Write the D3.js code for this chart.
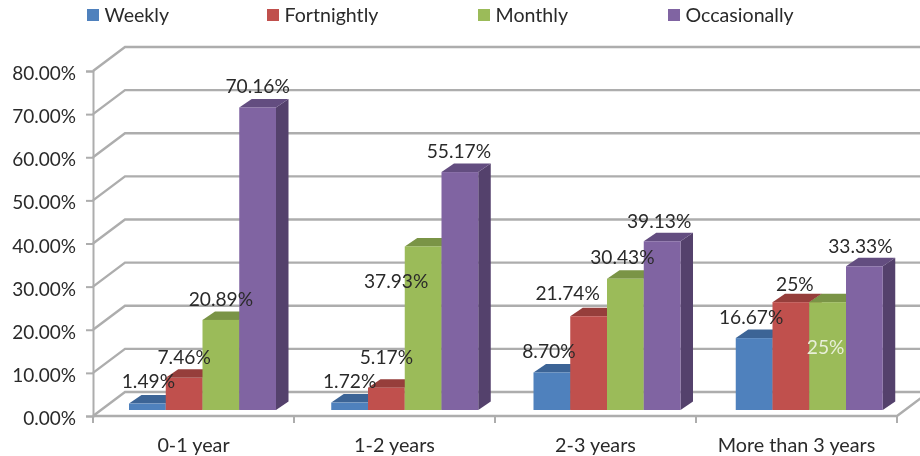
<!DOCTYPE html>
<html><head><meta charset="utf-8">
<script src="https://cdn.jsdelivr.net/npm/d3@7"></script>
<style>html,body{margin:0;padding:0;background:#fff}svg{display:block;filter:blur(0.35px)}text{font-family:Lato,"Open Sans",sans-serif;fill:#2a2a2a}</style>
</head><body><svg id="c" width="920" height="456"></svg>
<script>
const categories = ["0-1 year","1-2 years","2-3 years","More than 3 years"];
const seriesNames = ["Weekly","Fortnightly","Monthly","Occasionally"];
const weekly = [1.49,1.72,8.70,16.67];
const fortnightly = [7.46,5.17,21.74,25];
const monthly = [20.89,37.93,30.43,25];
const occasionally = [70.16,55.17,39.13,33.33];
const weeklyLabels = ["1.49%","1.72%","8.70%","16.67%"];
const fortnightlyLabels = ["7.46%","5.17%","21.74%","25%"];
const monthlyLabels = ["20.89%","37.93%","30.43%","25%"];
const occasionallyLabels = ["70.16%","55.17%","39.13%","33.33%"];
const yTicks = [0,10,20,30,40,50,60,70,80];

// layout
const W=920,H=456, X0=93,X1=897, Y0=416,Y80=71;
const wallDx=32,wallDy=-24, barDy=-6, depthDx=12.5,depthDy=-8.5, fs=19.2;
const colors=["#4f81bd","#c0504d","#9bbb59","#8064a2"];
const topCol=["#3c6496","#963e3b","#7a9446","#634d80"];
const sideCol=["#34577f","#7f3432","#667c3a","#54416c"];
const gridCol="#adadad";
const legendX=[87,267,478,668];
// label nudges relative to the top centre of each bar, [dx,dy] per series then category
const labelNudge=[
 [[1,-23],[0,-22],[-3,-22],[-3,-22]],
 [[0,-21],[0,-31],[-21,-24],[4,-19]],
 [[0,-21],[-27,34],[-3,-22],[-2,44]],
 [[0,-22],[-1,-22],[-3,-21],[-4,-21]]
];
const values=[weekly,fortnightly,monthly,occasionally];
const labels=[weeklyLabels,fortnightlyLabels,monthlyLabels,occasionallyLabels];

const svg=d3.select("#c");
const y=d3.scaleLinear().domain([0,80]).range([Y0,Y80]);
const x=d3.scaleBand().domain(categories).range([X0,X1]);
// bars sit on a slightly wider pitch than the axis ticks
const barX=d3.scaleBand().domain(categories).range([129,938]);
const inner=d3.scaleBand().domain(seriesNames).range([0,147]);

// walls
const grid=svg.append("g").attr("fill","none").attr("stroke",gridCol).attr("stroke-width",2.4);
grid.selectAll("path").data(yTicks).join("path")
  .attr("d",t=>`M${X0},${y(t)}L${X0+wallDx},${y(t)+wallDy}L${W+5},${y(t)+wallDy}`);
grid.append("path").attr("d",`M${X0},${Y0}L${X1},${Y0}L${X1+wallDx},${Y0+wallDy}`);

// axes
const yAxis=d3.axisLeft(y).tickValues(yTicks).tickSize(7).tickPadding(10).tickFormat(d=>d3.format(".2f")(d)+"%");
const gy=svg.append("g").attr("transform",`translate(${X0},0)`).call(yAxis);
const xAxis=d3.axisBottom(x).tickSize(0).tickPadding(22);
const gx=svg.append("g").attr("transform",`translate(0,${Y0})`).call(xAxis);
[gy,gx].forEach(g=>{g.selectAll("line,path").attr("stroke",gridCol).attr("stroke-width",2);});
gy.selectAll("text").attr("font-size",19).style("font-family","Lato").attr("dy","0.45em");
gx.selectAll("text").attr("font-size",19.8).style("font-family","Lato");
gx.select(".domain").remove();
svg.append("g").selectAll("line").data([...categories.map(c=>x(c)),X1]).join("line")
  .attr("x1",d=>d).attr("x2",d=>d).attr("y1",Y0).attr("y2",Y0+7).attr("stroke",gridCol).attr("stroke-width",2);

// bars
const bw=inner.bandwidth();
categories.forEach((c,ci)=>{
  seriesNames.forEach((s,si)=>{
    const v=values[si][ci], l=barX(c)+inner(s), r=l+bw, t=y(v)+barDy, b=y(0)+barDy;
    const g=svg.append("g");
    g.append("path").attr("fill",sideCol[si]).attr("d",`M${r},${t}L${r+depthDx},${t+depthDy}L${r+depthDx},${b+depthDy}L${r},${b}Z`);
    g.append("path").attr("fill",topCol[si]).attr("d",`M${l},${t}L${l+depthDx},${t+depthDy}L${r+depthDx},${t+depthDy}L${r},${t}Z`);
    g.append("rect").attr("x",l).attr("y",t).attr("width",bw).attr("height",b-t).attr("fill",colors[si]);
  });
});
// data labels
categories.forEach((c,ci)=>{
  seriesNames.forEach((s,si)=>{
    const [dx,dy]=labelNudge[si][ci];
    const tx=svg.append("text").attr("x",barX(c)+inner(s)+bw/2+dx).attr("y",y(values[si][ci])+barDy+dy)
      .attr("text-anchor","middle").attr("dominant-baseline","central").attr("font-size",fs).text(labels[si][ci]);
    if(si===2&&ci===3) tx.style("fill","#e8efd8");
  });
});
// legend
const lg=svg.append("g").selectAll("g").data(seriesNames).join("g").attr("transform",(d,i)=>`translate(${legendX[i]},9)`);
lg.append("rect").attr("width",12).attr("height",12).attr("fill",(d,i)=>colors[i]);
lg.append("text").attr("x",17.5).attr("y",5.5).attr("dominant-baseline","central").attr("font-size",19.6).text(d=>d);
</script></body></html>
